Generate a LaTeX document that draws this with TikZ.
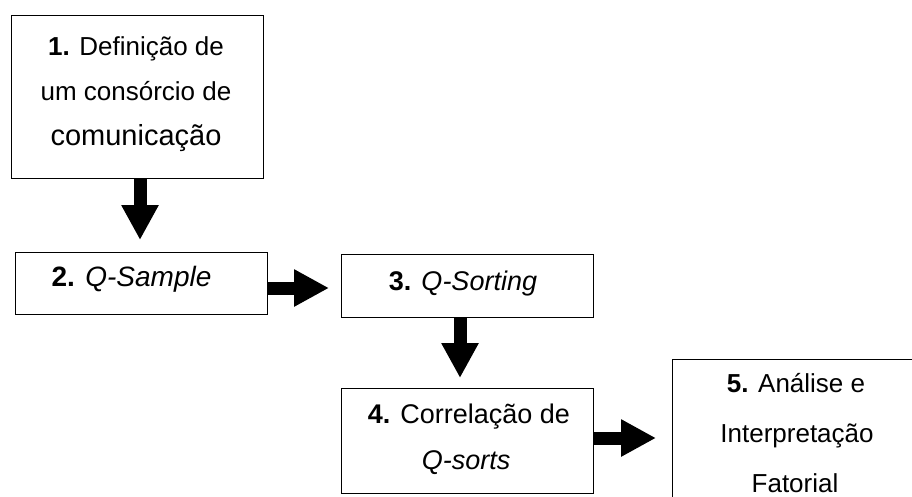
\documentclass[tikz,border=0pt]{standalone}
\usepackage{fontspec}
\setmainfont{Liberation Sans}
\usetikzlibrary{arrows.meta}
\newcommand\myfs[1]{\fontsize{#1}{#1}\selectfont}
\begin{document}
\begin{tikzpicture}[x=1pt,y=-1pt,
  box/.style={draw=black,line width=1pt,rectangle,inner sep=0pt,anchor=north west},
  txt/.style={anchor=base,inner sep=0pt},
  blockarrow/.style={line width=13pt,-{Triangle[width=35pt,length=35pt]}}]
\useasboundingbox (0,0) rectangle (912,496);
\fill[white] (0,0) rectangle (912,496);
\clip (0,0) rectangle (912,496);
% boxes
\node[box,minimum width=252pt,minimum height=163pt] (b1) at (11,15) {};
\node[box,minimum width=252pt,minimum height=62pt] (b2) at (15,252) {};
\node[box,minimum width=252pt,minimum height=63pt] (b3) at (341,254) {};
\node[box,minimum width=252pt,minimum height=105pt] (b4) at (341,388) {};
\node[box,minimum width=250pt,minimum height=160pt] (b5) at (672,359) {};
% texts
\node[txt,font=\myfs{26}] (t1a) at (136,55) {\textbf{1.} Definição de};
\node[txt,font=\myfs{26}] (t1b) at (136,100) {um consórcio de};
\node[txt,font=\myfs{29}] (t1c) at (136,145) {comunicação};
\node[txt,font=\myfs{28}] (t2) at (131.5,286) {\textbf{2.} \textit{Q-Sample}};
\node[txt,font=\myfs{27}] (t3) at (463,290) {\textbf{3.} \textit{Q-Sorting}};
\node[txt,font=\myfs{27}] (t4a) at (469,423) {\textbf{4.} Correlação de};
\node[txt,font=\myfs{27}] (t4b) at (466,469) {\textit{Q-sorts}};
\node[txt,font=\myfs{26}] (t5a) at (796,392) {\textbf{5.} Análise e};
\node[txt,font=\myfs{26}] (t5b) at (797,442) {Interpretação};
\node[txt,font=\myfs{26}] (t5c) at (795,492) {Fatorial};
% arrows
\draw[blockarrow,shorten >=12pt] ([xshift=2.5pt]b1.south) -- ([xshift=2.5pt]b1.south |- b2.north);
\draw[blockarrow,shorten >=12pt] ([yshift=-4.5pt]b2.east) -- ([yshift=-4.5pt]b2.east -| b3.west);
\draw[blockarrow,shorten >=10pt] ([xshift=-7.5pt]b3.south) -- ([xshift=-7.5pt]b3.south |- b4.north);
\draw[blockarrow,shorten >=16pt] ([yshift=3pt]b4.east) -- ([yshift=3pt]b4.east -| b5.west);
\end{tikzpicture}
\end{document}
